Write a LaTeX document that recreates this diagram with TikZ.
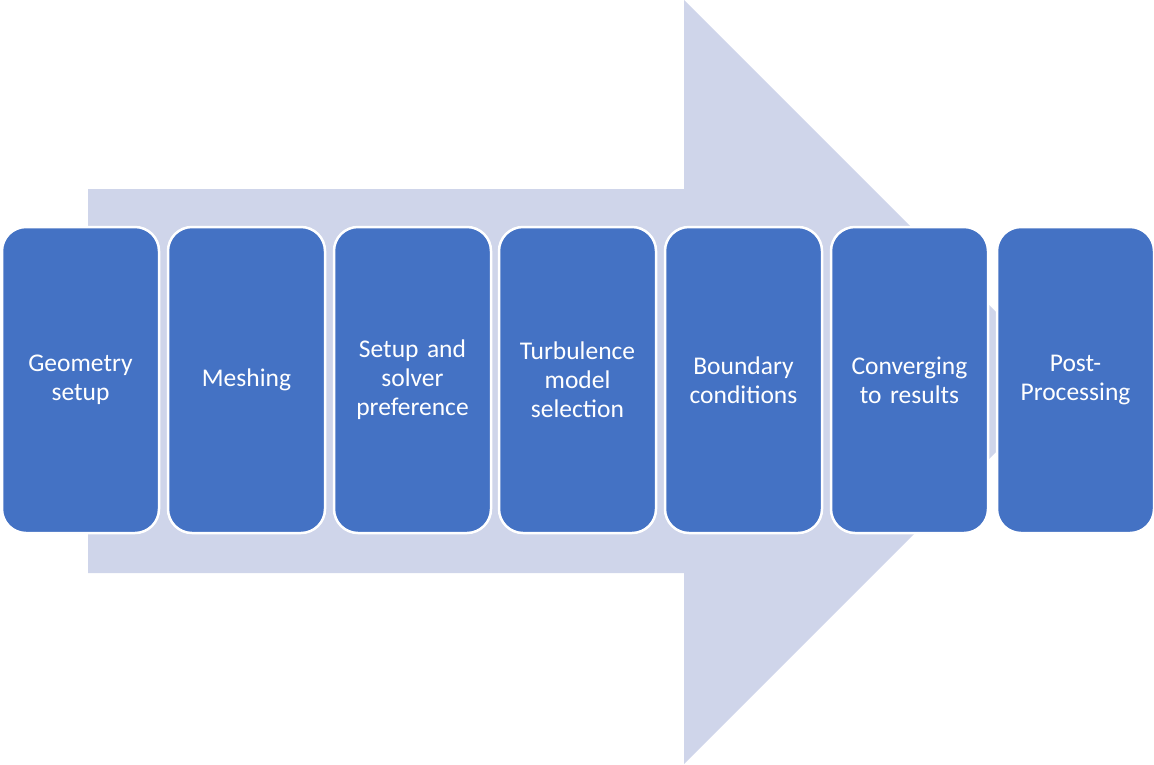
\documentclass[tikz,border=0pt]{standalone}
\usepackage{fontspec}
\setmainfont{Carlito}
\definecolor{stepblue}{HTML}{4472C4}
\definecolor{arrowbg}{HTML}{CFD5EA}
\begin{document}
\begin{tikzpicture}[x=1pt,y=-1pt,
  stepbox/.style={draw=white, line width=2.5pt, fill=stepblue, rounded corners=24pt,
    minimum width=157pt, minimum height=306pt, inner sep=0pt, outer sep=0pt, anchor=north west,
    text=white, align=center, font=\fontsize{25.5}{29}\selectfont, text width=154pt}]
\useasboundingbox (0,0) rectangle (1154,764);
% background process arrow
\fill[arrowbg] (88,189) -- (684,189) -- (684,0) -- (1066,382) -- (684,764) -- (684,573) -- (88,573) -- cycle;
% process steps
\node[stepbox] (s1) at (2,227)   {Geometry\\setup};
\node[stepbox] (s2) at (168,227) {Meshing};
\node[stepbox] (s3) at (334,227) {Setup and\\solver\\preference};
\node[stepbox] (s4) at (499,227) {Turbulence\\model\\selection};
\node[stepbox] (s5) at (665,227) {Boundary\\conditions};
\node[stepbox] (s6) at (831,227) {Converging\\to results};
\node[stepbox] (s7) at (997,227) {Post-\\Processing};
\end{tikzpicture}
\end{document}
